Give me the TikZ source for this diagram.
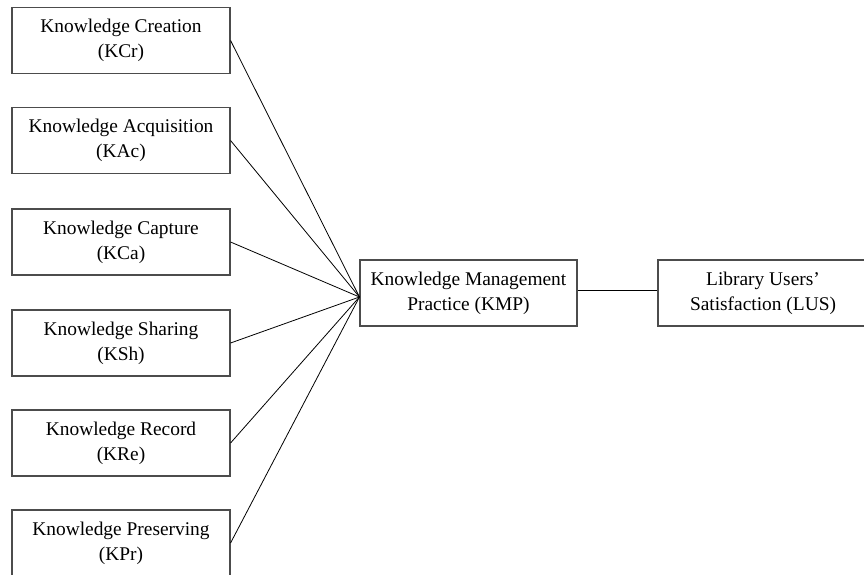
\documentclass[tikz,border=0pt]{standalone}
\usepackage{fontspec}
\setmainfont{Liberation Serif}
\begin{document}
\begin{tikzpicture}[x=1pt,y=-1pt,
  box/.style={draw=black!70,line width=1.1pt,fill=white,minimum width=218pt,minimum height=66pt,
    align=center,inner sep=0pt,font=\fontsize{19.4}{25}\selectfont},
  link/.style={draw=black,line width=0.8pt}]
\useasboundingbox (0,0) rectangle (864,575);
\clip (0,0) rectangle (864,575);
\node[box] (kcr) at (121,40.5) {Knowledge Creation\\(KCr)};
\node[box] (kac) at (121,140.5) {Knowledge Acquisition\\(KAc)};
\node[box] (kca) at (121,242) {Knowledge Capture\\(KCa)};
\node[box] (ksh) at (121,343) {Knowledge Sharing\\(KSh)};
\node[box] (kre) at (121,443) {Knowledge Record\\(KRe)};
\node[box] (kpr) at (121,543) {Knowledge Preserving\\(KPr)};
\node[box,minimum width=217pt] (kmp) at (468.5,293) {Knowledge Management\\Practice (KMP)};
\node[box,minimum width=210pt] (lus) at (763,293) {Library Users’\\Satisfaction (LUS)};
\coordinate (hub) at ([yshift=-4pt]kmp.west);
\foreach \n in {kcr,kac,kca,ksh,kre,kpr}{
  \draw[link] (\n.east) -- (hub);
}
\draw[link] ([yshift=3pt]kmp.east) -- ([yshift=3pt]lus.west);
\end{tikzpicture}
\end{document}
